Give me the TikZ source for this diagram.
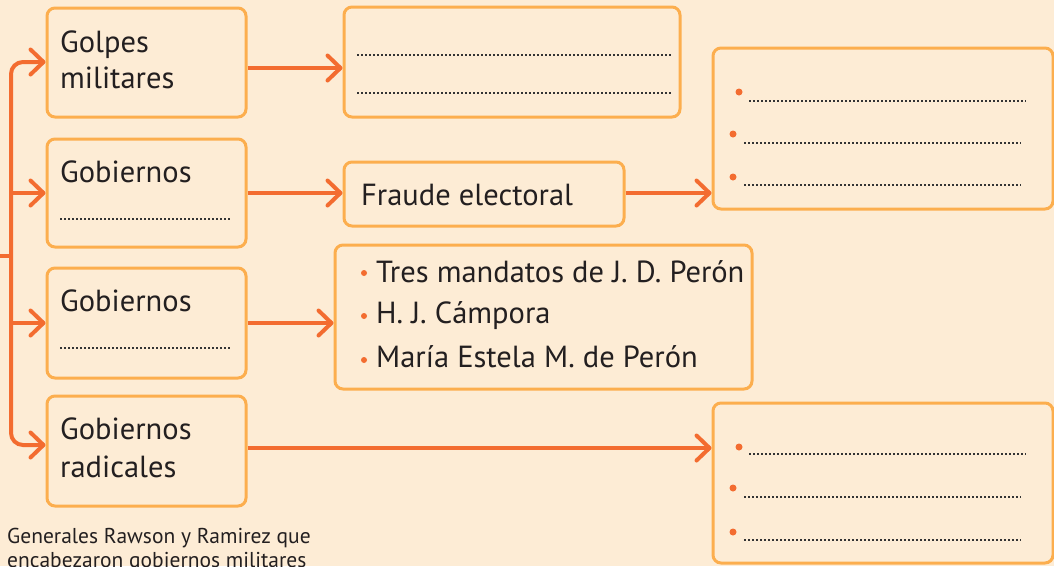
\documentclass[tikz,border=0pt]{standalone}
\usepackage{fontspec}
\setmainfont{PT Sans}
\usetikzlibrary{arrows.meta}
\definecolor{bg}{HTML}{FDECD5}
\definecolor{bord}{HTML}{FCAE4E}
\definecolor{arr}{HTML}{F36C30}
\definecolor{ink}{HTML}{231F20}
\definecolor{dotc}{HTML}{333333}
\begin{document}
\begin{tikzpicture}[x=1pt,y=-1pt,
  box/.style={draw=bord, line width=3pt, rounded corners=8pt, fill=bg, inner sep=0pt},
  tip/.tip={Straight Barb[length=13pt,width=25pt,round]},
  link/.style={draw=arr, line width=4pt, -tip},
  bilink/.style={draw=arr, line width=4pt, tip-tip},
  plain/.style={draw=arr, line width=4pt},
  lbl/.style={text=ink, font=\fontsize{30.5}{36}\selectfont, inner sep=0pt, anchor=base west},
  note/.style={text=ink, font=\fontsize{21.5}{24}\selectfont, inner sep=0pt, anchor=base west},
  dotline/.style={draw=dotc, line width=1.5pt, dash pattern=on 1.5pt off 2.5pt},
  bul/.style={fill=arr}
]
\useasboundingbox (0,0) rectangle (1054,566);
\fill[bg] (0,0) rectangle (1054,566);

% left boxes
\node[box, minimum width=199pt, minimum height=109pt] (b1) at (146.5,62.5) {};
\node[box, minimum width=199pt, minimum height=108pt] (b2) at (146.5,193) {};
\node[box, minimum width=199pt, minimum height=110pt] (b3) at (146.5,323) {};
\node[box, minimum width=199pt, minimum height=110pt] (b4) at (146.5,451) {};

% other boxes
\node[box, minimum width=336pt, minimum height=110pt] (r1) at (512,62) {};
\node[box, minimum width=280pt, minimum height=64pt] (fr) at (484,194) {};
\node[box, minimum width=340pt, minimum height=161pt] (rt) at (883,128.5) {};
\node[box, minimum width=417pt, minimum height=144pt] (mid) at (543.5,317) {};
\node[box, minimum width=340pt, minimum height=160pt] (rb) at (883,483) {};

% texts
\node[lbl] (t1a) at (60,52) {Golpes};
\node[lbl] (t1b) at (60,88) {militares};
\node[lbl] (t2) at (60,182) {Gobiernos};
\node[lbl] (t3) at (60,311) {Gobiernos};
\node[lbl] (t4a) at (60,439) {Gobiernos};
\node[lbl] (t4b) at (60,477) {radicales};
\node[lbl] (tf) at (361,205) {Fraude electoral};
\node[lbl] (m1) at (376,282) {Tres mandatos de J. D. Perón};
\node[lbl] (m2) at (376,323) {H. J. Cámpora};
\node[lbl] (m3) at (376,367) {María Estela M. de Perón};
\fill[bul] (364,273) circle (3pt);
\fill[bul] (364,316) circle (3pt);
\fill[bul] (364,360) circle (3pt);

\node[note] (n1) at (7,543) {Generales Rawson y Ramirez que};
\node[note] (n2) at (7,567) {encabezaron gobiernos militares};

% dotted lines
\draw[dotline] (60,219) -- (231,219);
\draw[dotline] (60,348) -- (231,348);
\draw[dotline] (357,55) -- (673,55);
\draw[dotline] (357,93) -- (673,93);

\fill[bul] (739,92) circle (3.5pt);
\fill[bul] (733,134) circle (3.5pt);
\fill[bul] (733,177) circle (3.5pt);
\draw[dotline] (749,101) -- (1026,101);
\draw[dotline] (744,143) -- (1021,143);
\draw[dotline] (744,185) -- (1021,185);

\fill[bul] (739,447) circle (3.5pt);
\fill[bul] (733,488) circle (3.5pt);
\fill[bul] (733,532) circle (3.5pt);
\draw[dotline] (749,454) -- (1026,454);
\draw[dotline] (744,497) -- (1021,497);
\draw[dotline] (744,540) -- (1021,540);

% bracket
\coordinate (c0) at (0,256);
\coordinate (cs) at (11,256);
\coordinate (c1) at (11,62);
\coordinate (c2) at (11,193);
\coordinate (c3) at (11,323);
\coordinate (c4) at (11,445);
\draw[bilink, rounded corners=12pt] (b1.west |- c1) -- (c1) -- (c4) -- (b4.west |- c4);
\draw[link] (c2) -- (b2.west |- c2);
\draw[link] (c3) -- (b3.west |- c3);
\draw[plain] (c0) -- (cs);

% right arrows
\coordinate (a1) at (0,68);
\coordinate (a2) at (0,193);
\coordinate (a3) at (0,323);
\coordinate (a4) at (0,448);
\draw[link] (b1.east |- a1) -- (r1.west |- a1);
\draw[link] (b2.east |- a2) -- (fr.west |- a2);
\draw[link] (fr.east |- a2) -- (rt.west |- a2);
\draw[link] (b3.east |- a3) -- (mid.west |- a3);
\draw[link] (b4.east |- a4) -- (rb.west |- a4);
\end{tikzpicture}
\end{document}
